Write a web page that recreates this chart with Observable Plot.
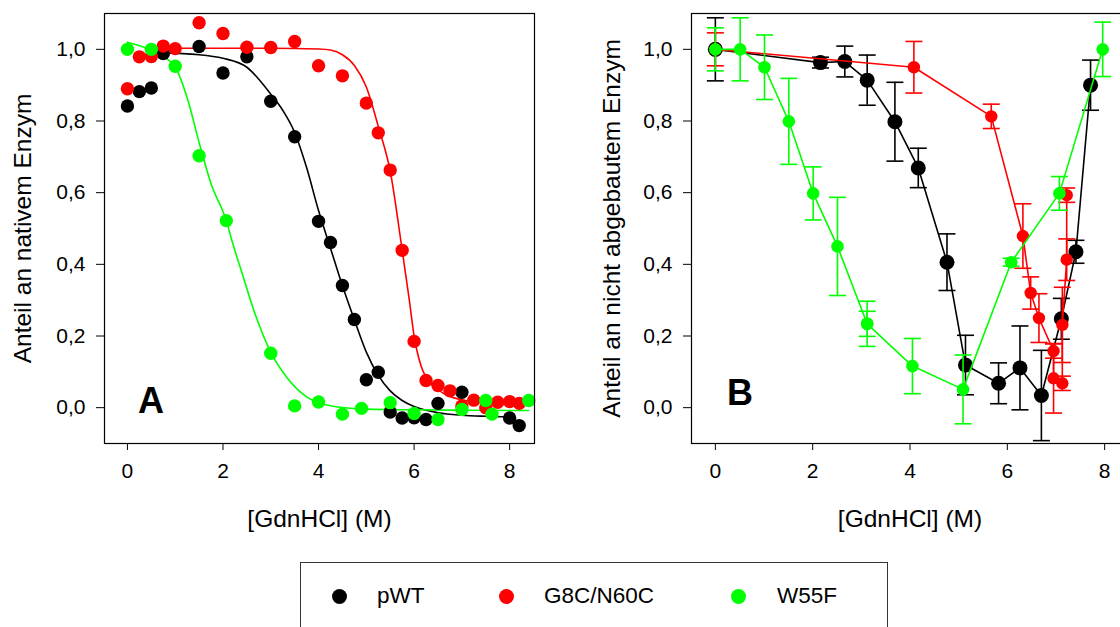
<!DOCTYPE html>
<html><head><meta charset="utf-8">
<script src="https://cdn.jsdelivr.net/npm/d3@7"></script>
<script src="https://cdn.jsdelivr.net/npm/@observablehq/plot@0.6"></script>
<style>
html,body{margin:0;padding:0;background:#fff;overflow:hidden;}
#root{position:relative;width:1120px;height:627px;overflow:hidden;font-family:"Liberation Sans",Arial,sans-serif;}
#panelA{position:absolute;left:0;top:0;}
#panelB{position:absolute;left:560px;top:0;}
#legend{position:absolute;left:300px;top:562px;width:588px;height:100px;border:1px solid #333;box-sizing:border-box;background:#fff;}
.dot{position:absolute;width:15px;height:15px;border-radius:50%;top:25.5px;}
.lab{position:absolute;top:22px;font-size:22.5px;line-height:22.5px;white-space:nowrap;color:#000;}
</style></head>
<body><div id="root"><div id="panelA"></div><div id="panelB"></div><div id="legend"></div></div>
<script>
// ---------- data ----------
const seriesNames = ["pWT", "G8C/N60C", "W55F"];
const seriesColors = ["#000000", "#ff0000", "#00ff00"];
const xTicks = [0, 2, 4, 6, 8];
const yTicks = [0, 0.2, 0.4, 0.6, 0.8, 1.0];
const xLabel = "[GdnHCl] (M)";
const yLabelA = "Anteil an nativem Enzym";
const yLabelB = "Anteil an nicht abgebautem Enzym";

// Panel A: measured points [GdnHCl, fraction]
const pwtA = [[0,0.842],[0.25,0.882],[0.5,0.892],[0.75,0.988],[1.5,1.008],[2,0.934],[2.5,0.979],[3,0.855],[3.5,0.756],[4,0.52],[4.25,0.461],[4.5,0.341],[4.75,0.246],[5,0.078],[5.25,0.099],[5.5,-0.012],[5.75,-0.029],[6,-0.028],[6.25,-0.033],[6.5,0.012],[7,0.043],[8,-0.029],[8.2,-0.05]];
const g8cA = [[0,0.89],[0.25,0.979],[0.5,0.98],[0.75,1.009],[1,1.002],[1.5,1.074],[2,1.044],[2.5,1.006],[3,1.005],[3.5,1.022],[4,0.954],[4.5,0.926],[5,0.85],[5.25,0.767],[5.5,0.663],[5.75,0.439],[6,0.185],[6.25,0.076],[6.5,0.062],[6.75,0.047],[7,0.005],[7.25,0.021],[7.5,0.0],[7.75,0.015],[8,0.017],[8.2,0.012]];
const w55fA = [[0,1.0],[0.5,1.0],[1,0.953],[1.5,0.703],[2.07,0.522],[3,0.152],[3.5,0.005],[4,0.016],[4.5,-0.018],[4.9,-0.002],[5.5,0.014],[6,-0.016],[6.5,-0.033],[7,-0.005],[7.5,0.02],[7.63,-0.018],[8.4,0.02]];

// Panel A: fitted curves
const pwtFit = [[0.7,0.99],[1.5,0.985],[2,0.975],[2.5,0.95],[3,0.875],[3.25,0.83],[3.5,0.768],[3.75,0.67],[4,0.55],[4.25,0.445],[4.5,0.34],[4.75,0.245],[5,0.155],[5.25,0.09],[5.5,0.047],[5.75,0.02],[6,0.003],[6.5,-0.014],[7,-0.021],[7.5,-0.024],[8.1,-0.026]];
const g8cFit = [[0.7,1.003],[2,1.003],[3,1.003],[4,1.001],[4.25,0.998],[4.5,0.985],[4.75,0.955],[5,0.895],[5.25,0.785],[5.5,0.66],[5.75,0.44],[5.9,0.3],[6,0.2],[6.15,0.115],[6.25,0.085],[6.5,0.05],[6.75,0.031],[7,0.022],[7.5,0.014],[8.2,0.01]];
const w55fFit = [[0,1.02],[0.5,0.997],[1,0.95],[1.25,0.865],[1.5,0.74],[1.75,0.625],[2.07,0.522],[2.2,0.46],[2.4,0.375],[2.65,0.27],[3,0.155],[3.35,0.082],[3.75,0.03],[4.3,0.004],[5,-0.004],[6,-0.006],[7,-0.007],[8.4,-0.008]];

// Panel B: [GdnHCl, fraction, error]
const pwtB = [[0,1.0,0.088],[2.16,0.963,0.015],[2.66,0.966,0.043],[3.12,0.914,0.07],[3.69,0.798,0.11],[4.17,0.669,0.055],[4.76,0.406,0.079],[5.14,0.119,0.083],[5.82,0.068,0.057],[6.26,0.111,0.117],[6.70,0.034,0.126],[7.11,0.248,0.057],[7.41,0.435,0.032],[7.71,0.9,0.07]];
const g8cB = [[0,1.0,0.046],[4.08,0.95,0.072],[5.67,0.813,0.034],[6.32,0.479,0.09],[6.48,0.32,0.045],[6.65,0.25,0.068],[6.95,0.158,0.02],[6.95,0.082,0.097],[7.13,0.068,0.02],[7.13,0.231,0.105],[7.22,0.413,0.058],[7.22,0.593,0.02]];
const w55fB = [[0,1.0,0.06],[0.51,1.0,0.088],[1.01,0.95,0.09],[1.51,0.799,0.12],[2.01,0.598,0.074],[2.51,0.45,0.137],[3.12,0.234,0.063],[3.12,0.234,0.035],[4.05,0.116,0.077],[5.09,0.051,0.096],[6.08,0.406,0.011],[7.07,0.598,0.047],[7.96,1.0,0.076]];

// ---------- drawing ----------
const FONT = "'Liberation Sans', Arial, sans-serif";
const fmt = d => d.toFixed(1).replace(".", ",");
const capSymbol = {draw(ctx, size) { const w = Math.sqrt(size / Math.PI); ctx.moveTo(-w, 0); ctx.lineTo(w, 0); }};

function axes(domain) {
  return {
    x: {domain, ticks: xTicks, tickFormat: d => String(d), tickSize: 7, tickPadding: 13, label: null},
    y: {domain: [-0.1, 1.1], ticks: yTicks, tickFormat: fmt, tickSize: 8, tickPadding: 11, label: null}
  };
}
const style = {fontFamily: FONT, fontSize: "21px", background: "transparent", overflow: "visible", maxWidth: "none", color: "#000"};

// Panel A
const fitsA = [pwtFit, g8cFit, w55fFit];
const ptsA = [pwtA, g8cA, w55fA];
const marksA = [];
fitsA.forEach((f, i) => marksA.push(Plot.line(f, {x: d => d[0], y: d => d[1], stroke: seriesColors[i], strokeWidth: 1.6, curve: "monotone-x"})));
ptsA.forEach((p, i) => marksA.push(Plot.dot(p, {x: d => d[0], y: d => d[1], r: 6.7, fill: seriesColors[i], stroke: "none"})));
marksA.push(Plot.frame({stroke: "#000", strokeWidth: 1.2}));
marksA.push(Plot.text([yLabelA], {frameAnchor: "left", textAnchor: "middle", lineAnchor: "middle", rotate: -90, dx: -81, fontSize: 24.5, fill: "#000"}));
marksA.push(Plot.text([xLabel], {frameAnchor: "bottom", textAnchor: "middle", lineAnchor: "middle", dy: 76, fontSize: 24.5, fill: "#000"}));
marksA.push(Plot.text(["A"], {frameAnchor: "bottom-left", textAnchor: "middle", lineAnchor: "middle", dx: 46.5, dy: -42, fontSize: 36, fontWeight: "bold", fill: "#000"}));

const plotA = Plot.plot({
  width: 554, height: 560, marginLeft: 104, marginRight: 20, marginTop: 13, marginBottom: 117,
  ...axes([-0.48, 8.52]), style, marks: marksA
});
document.getElementById("panelA").appendChild(plotA);

// Panel B
const ptsB = [pwtB, g8cB, w55fB];
const radiiB = [7.5, 6.2, 6.3];
const marksB = [];
ptsB.forEach((p, i) => {
  const c = seriesColors[i];
  marksB.push(Plot.line(p, {x: d => d[0], y: d => d[1], stroke: c, strokeWidth: 1.6}));
  marksB.push(Plot.ruleX(p, {x: d => d[0], y1: d => d[1] - d[2], y2: d => d[1] + d[2], stroke: c, strokeWidth: 1.6}));
  marksB.push(Plot.dot(p, {x: d => d[0], y: d => d[1] + d[2], symbol: capSymbol, r: 8.5, stroke: c, strokeWidth: 1.6, fill: "none"}));
  marksB.push(Plot.dot(p, {x: d => d[0], y: d => d[1] - d[2], symbol: capSymbol, r: 8.5, stroke: c, strokeWidth: 1.6, fill: "none"}));
  marksB.push(Plot.dot(p, {x: d => d[0], y: d => d[1], r: radiiB[i], fill: c, stroke: "none"}));
});
marksB.push(Plot.frame({stroke: "#000", strokeWidth: 1.2}));
marksB.push(Plot.text([yLabelB], {frameAnchor: "left", textAnchor: "middle", lineAnchor: "middle", rotate: -90, dx: -79, fontSize: 24.5, fill: "#000"}));
marksB.push(Plot.text([xLabel], {frameAnchor: "bottom", textAnchor: "middle", lineAnchor: "middle", dy: 76, fontSize: 24.5, fill: "#000"}));
marksB.push(Plot.text(["B"], {frameAnchor: "bottom-left", textAnchor: "middle", lineAnchor: "middle", dx: 48.5, dy: -50, fontSize: 36, fontWeight: "bold", fill: "#000"}));

const plotB = Plot.plot({
  width: 588, height: 560, marginLeft: 131, marginRight: 20, marginTop: 13, marginBottom: 117,
  ...axes([-0.49, 8.49]), style, marks: marksB
});
document.getElementById("panelB").appendChild(plotB);

// Legend
const legend = document.getElementById("legend");
const dotX = [38, 205, 437];
const labX = [76, 243, 476];
seriesNames.forEach((name, i) => {
  const d = document.createElement("div");
  d.className = "dot"; d.style.left = (dotX[i] - 7.5) + "px"; d.style.background = seriesColors[i];
  legend.appendChild(d);
  const t = document.createElement("div");
  t.className = "lab"; t.style.left = labX[i] + "px"; t.textContent = name;
  legend.appendChild(t);
});
</script></body></html>
